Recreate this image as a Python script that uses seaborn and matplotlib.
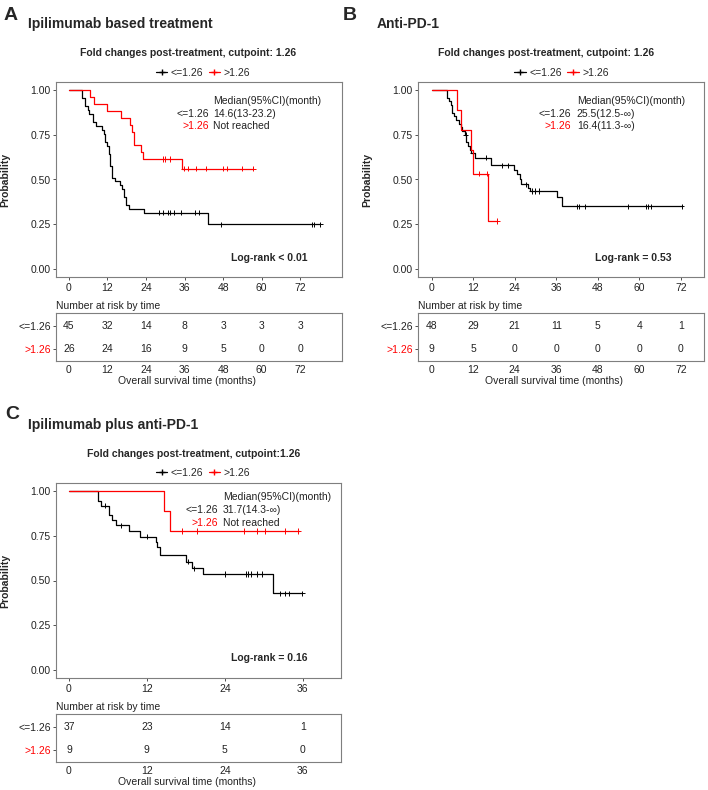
import numpy as np
import pandas as pd
import seaborn as sns
import matplotlib.pyplot as plt
from matplotlib.lines import Line2D

# ---- Panel A: Ipilimumab based treatment ----
a_low_t = [0, 4.1, 5.1, 5.9, 6.4, 7.6, 8.6, 10.4, 11.0, 11.4, 12.0, 12.4, 12.9, 13.4,
           14.4, 15.8, 16.6, 17.3, 17.9, 18.6, 23.5, 43.4, 78.2]
a_low_s = [1.0, 0.956, 0.911, 0.889, 0.867, 0.822, 0.80, 0.778, 0.756, 0.711, 0.689, 0.644,
           0.578, 0.511, 0.489, 0.467, 0.444, 0.40, 0.356, 0.333, 0.313, 0.248, 0.248]
a_low_cens = [27.9, 29.4, 30.7, 31.5, 32.6, 34.8, 39.3, 40.5, 47.4, 75.8, 76.4, 78.2]
a_high_t = [0, 6.7, 7.9, 12.0, 16.2, 19.1, 19.7, 20.4, 22.5, 23.2, 35.3, 57.3]
a_high_s = [1.0, 0.962, 0.923, 0.885, 0.846, 0.808, 0.769, 0.692, 0.654, 0.615, 0.56, 0.56]
a_high_cens = [29.2, 30.0, 31.6, 35.7, 37.2, 39.5, 42.7, 47.9, 49.2, 53.8, 57.3]
a_risk_times = [0, 12, 24, 36, 48, 60, 72]
a_risk_low = [45, 32, 14, 8, 3, 3, 3]
a_risk_high = [26, 24, 16, 9, 5, 0, 0]

# ---- Panel B: Anti-PD-1 ----
b_low_t = [0, 4.5, 5.0, 5.5, 6.0, 6.5, 7.0, 7.8, 8.4, 8.9, 9.5, 10.0, 10.5, 11.0, 11.5,
           12.6, 17.0, 23.8, 24.6, 25.4, 25.8, 27.9, 28.4, 36.3, 37.8, 72.3]
b_low_s = [1.0, 0.958, 0.938, 0.917, 0.875, 0.854, 0.833, 0.813, 0.792, 0.771, 0.75, 0.708,
           0.688, 0.667, 0.646, 0.623, 0.58, 0.553, 0.53, 0.502, 0.474, 0.455, 0.436, 0.40,
           0.35, 0.35]
b_low_cens = [9.8, 11.9, 15.8, 20.3, 22.0, 27.2, 28.9, 29.9, 30.9, 42.1, 42.7, 44.3, 56.7,
              61.9, 62.5, 63.3, 72.3]
b_high_t = [0, 7.3, 8.6, 11.3, 11.9, 16.4, 19.0]
b_high_s = [1.0, 0.889, 0.778, 0.667, 0.533, 0.267, 0.267]
b_high_cens = [13.7, 15.9, 19.0]
b_risk_times = [0, 12, 24, 36, 48, 60, 72]
b_risk_low = [48, 29, 21, 11, 5, 4, 1]
b_risk_high = [9, 5, 0, 0, 0, 0, 0]

# ---- Panel C: Ipilimumab plus anti-PD-1 ----
c_low_t = [0, 4.5, 5.0, 6.1, 6.6, 7.2, 9.2, 11.0, 13.4, 13.6, 14.0, 18.0, 19.0, 20.6,
           31.5, 35.9]
c_low_s = [1.0, 0.946, 0.919, 0.865, 0.838, 0.81, 0.78, 0.745, 0.718, 0.69, 0.644, 0.606,
           0.568, 0.537, 0.429, 0.429]
c_low_cens = [5.6, 8.0, 12.0, 18.4, 19.3, 24.1, 27.3, 27.6, 28.0, 29.0, 29.8, 32.5, 33.3,
              33.9, 35.9]
c_high_t = [0, 14.6, 15.5, 35.4]
c_high_s = [1.0, 0.889, 0.778, 0.778]
c_high_cens = [17.4, 19.7, 27.0, 28.9, 30.2, 33.2, 35.3]
c_risk_times = [0, 12, 24, 36]
c_risk_low = [37, 23, 14, 1]
c_risk_high = [9, 9, 5, 0]

groups = ['<=1.26', '>1.26']
colors = {'<=1.26': '#000000', '>1.26': '#FF0000'}
W, H = 708, 790
BORDER = '#7f7f7f'


def surv_at(times, surv, t):
    idx = np.searchsorted(times, t, side='right') - 1
    return np.asarray(surv)[idx]


def rect(l, t, r, b):
    return [l / W, 1 - b / H, (r - l) / W, (b - t) / H]


def style_box(ax):
    for sp in ax.spines.values():
        sp.set_visible(True)
        sp.set_color(BORDER)
        sp.set_linewidth(0.8)


def draw_panel(fig, main_px, table_px, xlim, xticks, low, high, risk, med, logrank, txt):
    ax = fig.add_axes(rect(*main_px))
    curves = pd.concat([
        pd.DataFrame({'time': low[0], 'surv': low[1], 'group': groups[0]}),
        pd.DataFrame({'time': high[0], 'surv': high[1], 'group': groups[1]}),
    ])
    cens = pd.concat([
        pd.DataFrame({'time': low[2], 'surv': surv_at(low[0], low[1], low[2]), 'group': groups[0]}),
        pd.DataFrame({'time': high[2], 'surv': surv_at(high[0], high[1], high[2]), 'group': groups[1]}),
    ])
    sns.lineplot(data=curves, x='time', y='surv', hue='group', palette=colors,
                 drawstyle='steps-post', estimator=None, linewidth=0.9, legend=False, ax=ax)
    sns.scatterplot(data=cens, x='time', y='surv', hue='group', palette=colors,
                    marker='+', s=14, linewidth=0.7, legend=False, ax=ax)
    ax.set_xlim(*xlim)
    ax.set_ylim(-0.047, 1.047)
    ax.set_xticks(xticks)
    ax.set_yticks([0, 0.25, 0.5, 0.75, 1.0])
    ax.set_yticklabels(['0.00', '0.25', '0.50', '0.75', '1.00'])
    ax.set_xlabel('')
    ax.set_ylabel('Probability', fontsize=7.5, fontweight='bold')
    ax.yaxis.set_label_coords(-0.16, 0.5)
    ax.tick_params(bottom=True, left=True, length=2.5, width=0.6, color='#333333',
                   labelsize=7.5, labelcolor='#222222', pad=1.5)
    style_box(ax)

    # median table and log-rank
    hx, hy, lx = txt['med']
    ax.text(hx, hy, 'Median(95%CI)(month)', transform=ax.transAxes, fontsize=7.5,
            ha='left', va='center', color='#222222')
    for i, g in enumerate(groups):
        yy = hy - 0.066 * (i + 1)
        ax.text(lx, yy, g, transform=ax.transAxes, fontsize=7.5, ha='right', va='center',
                color='#222222' if i == 0 else '#FF0000')
        ax.text(hx, yy, med[i], transform=ax.transAxes, fontsize=7.5, ha='left',
                va='center', color='#222222')
    ax.text(txt['lr'][0], txt['lr'][1], logrank, transform=ax.transAxes, fontsize=7.5,
            fontweight='bold', ha='right', va='center')

    # legend above the panel
    handles = [Line2D([], [], color=colors[g], marker='+', markersize=5, linewidth=0.9)
               for g in groups]
    lgx, lgy = txt['legend']
    ax.legend(handles, groups, loc='center', bbox_to_anchor=(lgx / W, 1 - lgy / H),
              bbox_transform=fig.transFigure, ncol=2, frameon=False, fontsize=7.5,
              handlelength=1.1, handletextpad=0.35, columnspacing=0.5, borderaxespad=0)

    # risk table
    rt = fig.add_axes(rect(*table_px))
    risk_df = pd.concat([
        pd.DataFrame({'time': risk[0], 'n': risk[1], 'row': 2}),
        pd.DataFrame({'time': risk[0], 'n': risk[2], 'row': 1}),
    ])
    for _, r in risk_df.iterrows():
        rt.text(r['time'], r['row'], str(int(r['n'])), fontsize=7.5, ha='center',
                va='center', color='#222222')
    rt.set_xlim(*xlim)
    rt.set_ylim(0.45, 2.6)
    rt.set_xticks(xticks)
    rt.set_yticks([2, 1])
    rt.set_yticklabels(groups)
    rt.get_yticklabels()[0].set_color('#222222')
    rt.get_yticklabels()[1].set_color('#FF0000')
    rt.tick_params(left=True, bottom=False, length=2, width=0.6, color='#333333',
                   labelsize=7.5, pad=1.5)
    rt.tick_params(axis='x', labelcolor='#222222', pad=1)
    rt.set_xlabel('Overall survival time (months)', fontsize=7.5, labelpad=0,
                  color='#222222')
    rt.xaxis.set_label_coords(txt['xlab'], -0.31)
    rt.set_title('Number at risk by time', loc='left', fontsize=7.5, pad=3,
                 color='#222222')
    style_box(rt)
    return ax


sns.set_theme(style='white')
plt.rcParams['font.family'] = ['Liberation Sans', 'DejaVu Sans']

fig = plt.figure(figsize=(W / 100, H / 100), dpi=100)

draw_panel(fig, (56, 82, 342, 277), (56, 313, 342, 361), (-4, 85), a_risk_times,
           (a_low_t, a_low_s, a_low_cens), (a_high_t, a_high_s, a_high_cens),
           (a_risk_times, a_risk_low, a_risk_high),
           ['14.6(13-23.2)', 'Not reached'], 'Log-rank < 0.01',
           {'med': (0.55, 0.904, 0.535), 'lr': (0.879, 0.096), 'legend': (203, 72.5),
            'xlab': 0.457})
draw_panel(fig, (418, 82, 704, 277), (418, 313, 704, 361), (-3.96, 78.7), b_risk_times,
           (b_low_t, b_low_s, b_low_cens), (b_high_t, b_high_s, b_high_cens),
           (b_risk_times, b_risk_low, b_risk_high),
           ['25.5(12.5-\u221e)', '16.4(11.3-\u221e)'], 'Log-rank = 0.53',
           {'med': (0.555, 0.904, 0.534), 'lr': (0.887, 0.096), 'legend': (561.5, 72.5),
            'xlab': 0.476})
draw_panel(fig, (56, 483, 341, 678), (56, 714, 341, 762), (-2, 41.9), c_risk_times,
           (c_low_t, c_low_s, c_low_cens), (c_high_t, c_high_s, c_high_cens),
           (c_risk_times, c_risk_low, c_risk_high),
           ['31.7(14.3-\u221e)', 'Not reached'], 'Log-rank = 0.16',
           {'med': (0.586, 0.928, 0.567), 'lr': (0.883, 0.105), 'legend': (203, 472.7),
            'xlab': 0.46})

# panel letters, titles and subtitles
for letter, lx, ly in [('A', 4, 19.5), ('B', 343, 19.5), ('C', 5, 418.5)]:
    fig.text(lx / W, 1 - ly / H, letter, fontsize=14, fontweight='bold', va='baseline')
for title, tx, ty in [('Ipilimumab based treatment', 28, 27.7), ('Anti-PD-1', 377, 27.7),
                      ('Ipilimumab plus anti-PD-1', 28, 429)]:
    fig.text(tx / W, 1 - ty / H, title, fontsize=10, fontweight='bold', va='baseline')
for sub, sx, sy in [('Fold changes post-treatment, cutpoint: 1.26', 188.3, 55.7),
                    ('Fold changes post-treatment, cutpoint: 1.26', 546.5, 55.7),
                    ('Fold changes post-treatment, cutpoint:1.26', 193.3, 456.7)]:
    fig.text(sx / W, 1 - sy / H, sub, fontsize=7.5, fontweight='bold', ha='center',
             va='baseline')

fig.savefig('out.png', dpi=100)
